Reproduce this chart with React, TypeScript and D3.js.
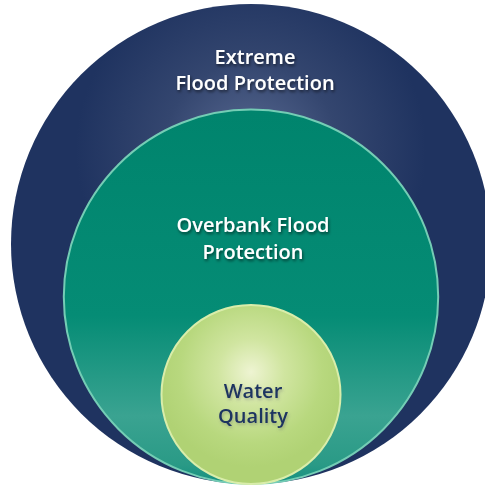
import React from "react";
import * as d3 from "d3";

const categories = ["Extreme Flood Protection", "Overbank Flood Protection", "Water Quality"];
const labelLines = [["Extreme", "Flood Protection"], ["Overbank Flood", "Protection"], ["Water", "Quality"]];
const relativeSize = [1, 0.78, 0.373];

const W = 485;
const H = 488;

export default function App() {
  const rScale = d3.scaleLinear().domain([0, 1]).range([0, 240]);
  const cx = 251;
  const bottom = 484;
  const circles = categories.map((c, i) => {
    const r = rScale(relativeSize[i]);
    return { c, r, cy: bottom - r, lines: labelLines[i], i };
  });
  const fills = ["url(#gOuter)", "url(#gMid)", "url(#gInner)"];
  const strokes = ["none", "#74cdb5", "#d9edaa"];
  const textColors = ["#ffffff", "#ffffff", "#1f3461"];
  const labelOffsets = [60, 122, 93];
  const lineGap = [26, 27, 25];
  const labelX = [4, 2, 2];
  return (
    <svg width={W} height={H} style={{ position: "absolute", left: 0, top: 0 }}>
      <defs>
        <radialGradient id="gOuter" gradientUnits="userSpaceOnUse" cx={cx} cy={150} r={175}>
          <stop offset="0" stopColor="#5a6b93" />
          <stop offset="0.5" stopColor="#34466f" />
          <stop offset="1" stopColor="#1f3360" />
        </radialGradient>
        <linearGradient id="gMid" gradientUnits="userSpaceOnUse" x1={0} y1={111} x2={0} y2={483}>
          <stop offset="0" stopColor="#00846d" />
          <stop offset="0.55" stopColor="#058c75" />
          <stop offset="0.82" stopColor="#3aa391" />
          <stop offset="0.95" stopColor="#2a9a86" />
          <stop offset="1" stopColor="#159080" />
        </linearGradient>
        <radialGradient id="gInner" gradientUnits="userSpaceOnUse" cx={cx} cy={372} r={95}>
          <stop offset="0" stopColor="#eef4d2" />
          <stop offset="0.35" stopColor="#d0e5a0" />
          <stop offset="0.75" stopColor="#b8d87e" />
          <stop offset="1" stopColor="#b0d274" />
        </radialGradient>
        <filter id="shDark" x="-20%" y="-50%" width="140%" height="200%">
          <feDropShadow dx="1" dy="2" stdDeviation="1.6" floodColor="#000" floodOpacity="0.55" />
        </filter>
        <filter id="shLight" x="-20%" y="-50%" width="140%" height="200%">
          <feDropShadow dx="1" dy="2" stdDeviation="1.6" floodColor="#556" floodOpacity="0.35" />
        </filter>
      </defs>
      {circles.map((d) => (
        <circle
          key={d.c}
          cx={cx}
          cy={d.cy}
          r={d.r}
          fill={fills[d.i]}
          stroke={strokes[d.i]}
          strokeWidth={d.i === 0 ? 0 : 2}
        />
      ))}
      {circles.map((d) => (
        <text
          key={"t" + d.c}
          textAnchor="middle"
          fill={textColors[d.i]}
          fontFamily="'Open Sans', sans-serif"
          fontWeight={600}
          fontSize={20}
          filter={d.i === 2 ? "url(#shLight)" : "url(#shDark)"}
        >
          {d.lines.map((ln, j) => (
            <tspan key={ln} x={cx + labelX[d.i]} y={d.cy - d.r + labelOffsets[d.i] + j * lineGap[d.i]}>
              {ln}
            </tspan>
          ))}
        </text>
      ))}
    </svg>
  );
}
